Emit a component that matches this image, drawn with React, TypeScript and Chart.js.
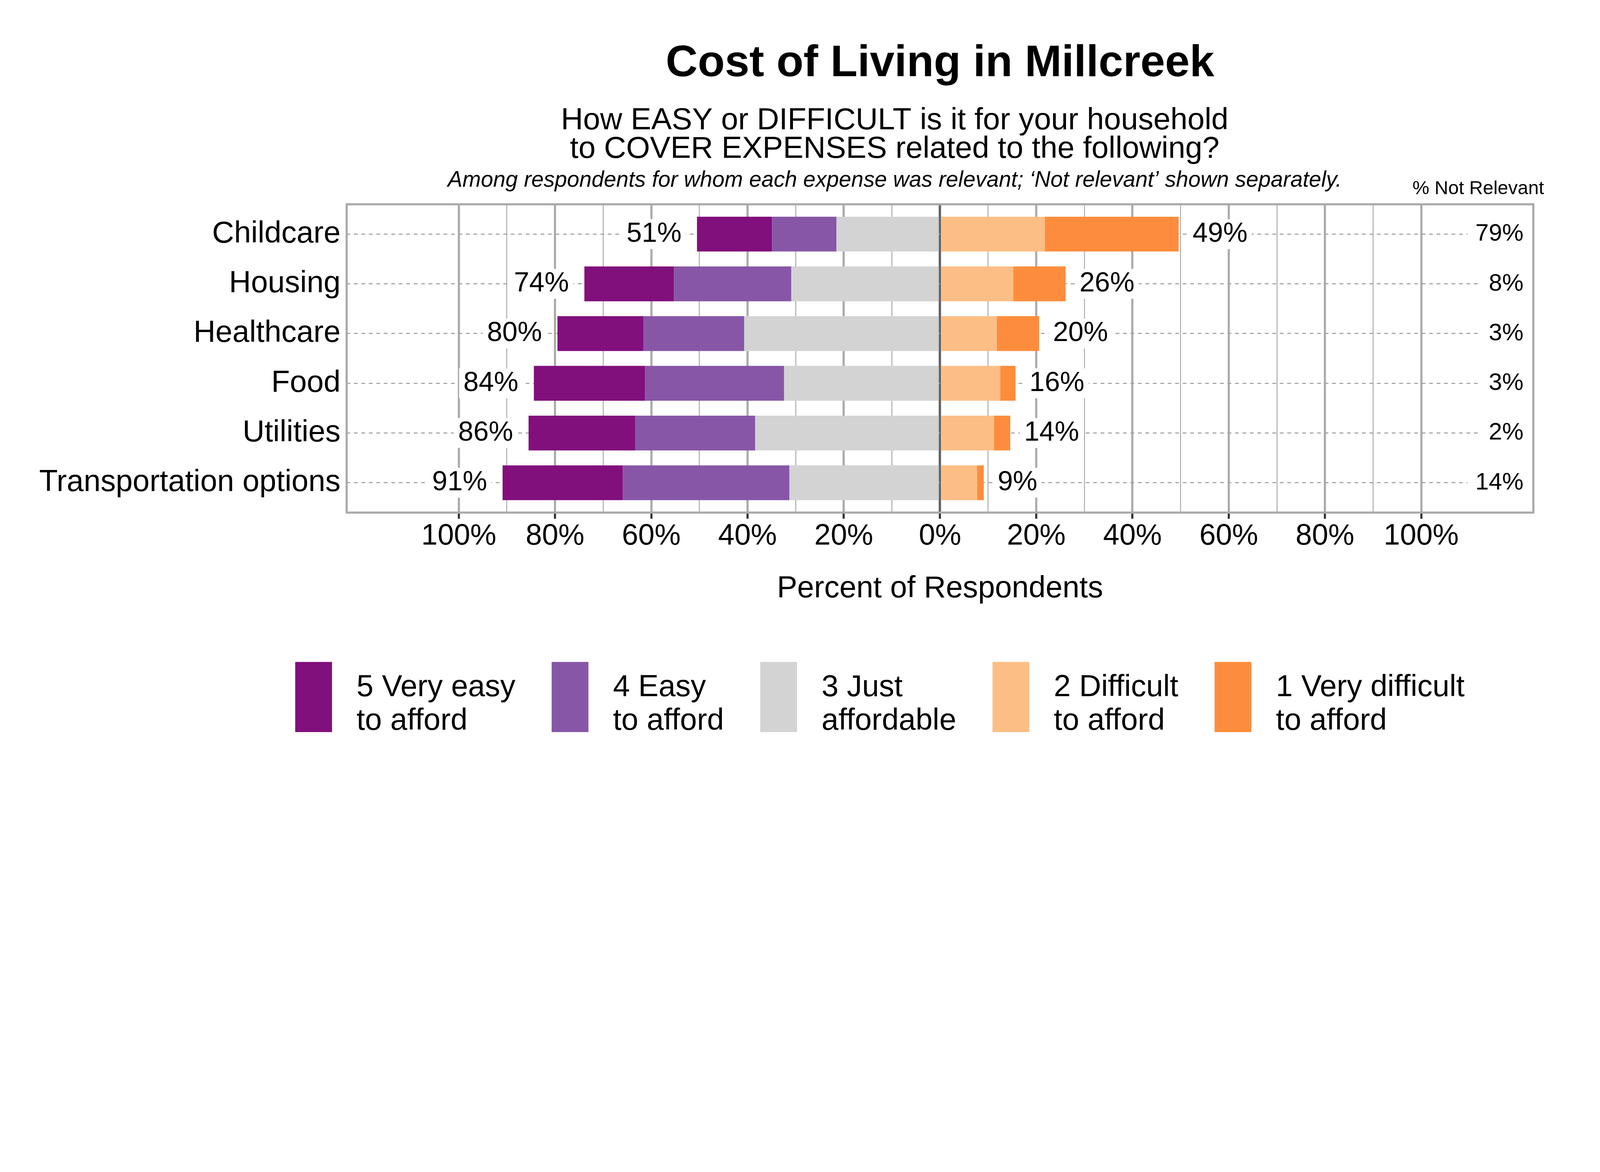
import { useEffect, useRef } from 'react';
import { Chart, registerables } from 'chart.js';
import type { ChartConfiguration, Plugin } from 'chart.js';

Chart.register(...registerables);

const FONT = '"Liberation Sans", Arial, Helvetica, sans-serif';

// the chart is laid out on a 6000 x 3000 logical canvas
const W = 6000;
const H = 3000;

const CATEGORIES = ['Childcare', 'Housing', 'Healthcare', 'Food', 'Utilities', 'Transportation options'];

// percent of respondents (top row first)
const VERY_EASY = [15.6, 18.6, 17.9, 23.1, 22.2, 25.0];
const EASY = [13.4, 24.4, 20.9, 28.9, 24.9, 34.6];
const JUST_AFFORDABLE = [21.5, 30.9, 40.7, 32.4, 38.4, 31.3];
const DIFFICULT = [21.8, 15.2, 11.8, 12.5, 11.2, 7.7];
const VERY_DIFFICULT = [27.8, 10.9, 8.8, 3.2, 3.4, 1.4];

// totals as printed on the chart
const EASY_TOTALS = ['51%', '74%', '80%', '84%', '86%', '91%'];
const DIFFICULT_TOTALS = ['49%', '26%', '20%', '16%', '14%', '9%'];
const NOT_RELEVANT = ['79%', '8%', '3%', '3%', '2%', '14%'];

const LEGEND_TEXT: string[][] = [
  ['5 Very easy', 'to afford'],
  ['4 Easy', 'to afford'],
  ['3 Just', 'affordable'],
  ['2 Difficult', 'to afford'],
  ['1 Very difficult', 'to afford'],
];

const COLORS = ['#810F7C', '#8856A7', '#D3D3D3', '#FDBE85', '#FD8D3C'];

const TITLE = 'Cost of Living in Millcreek';
const SUBTITLE = ['How EASY or DIFFICULT is it for your household', 'to COVER EXPENSES related to the following?'];
const NOTE = 'Among respondents for whom each expense was relevant; \u2018Not relevant\u2019 shown separately.';

const toPoints = (vals: number[], sign: number) => vals.map((v, i) => ({ x: sign * v, y: i }));

// stacking order: easy side grows leftwards from zero (3, 4, 5), difficult side rightwards (2, 1)
const datasets = [
  { label: LEGEND_TEXT[2].join(' '), data: toPoints(JUST_AFFORDABLE, -1), backgroundColor: COLORS[2] },
  { label: LEGEND_TEXT[1].join(' '), data: toPoints(EASY, -1), backgroundColor: COLORS[1] },
  { label: LEGEND_TEXT[0].join(' '), data: toPoints(VERY_EASY, -1), backgroundColor: COLORS[0] },
  { label: LEGEND_TEXT[3].join(' '), data: toPoints(DIFFICULT, 1), backgroundColor: COLORS[3] },
  { label: LEGEND_TEXT[4].join(' '), data: toPoints(VERY_DIFFICULT, 1), backgroundColor: COLORS[4] },
];

function tag(ctx: CanvasRenderingContext2D, text: string, x: number, y: number, align: 'left' | 'right', padX: number, boxH: number) {
  const w = ctx.measureText(text).width;
  const x0 = align === 'right' ? x - w : x;
  ctx.fillStyle = '#ffffff';
  ctx.fillRect(x0 - padX, y - boxH / 2, w + padX * 2, boxH);
  ctx.fillStyle = '#000000';
  ctx.textAlign = align;
  ctx.fillText(text, x, y);
}

const decorations: Plugin<'bar'> = {
  id: 'decorations',
  beforeDraw(chart) {
    const { ctx, width, height } = chart;
    ctx.save();
    ctx.fillStyle = '#ffffff';
    ctx.fillRect(0, 0, width, height);
    ctx.restore();
  },
  beforeDatasetsDraw(chart) {
    const { ctx, chartArea: a } = chart;
    ctx.save();
    ctx.strokeStyle = '#aaaaaa';
    ctx.lineWidth = 8;
    ctx.strokeRect(a.left, a.top, a.right - a.left, a.bottom - a.top);
    ctx.restore();
  },
  afterDatasetsDraw(chart) {
    const { ctx, chartArea: a } = chart;
    const leftMeta = chart.getDatasetMeta(2);
    const rightMeta = chart.getDatasetMeta(4);
    ctx.save();
    ctx.textBaseline = 'middle';
    ctx.font = `103px ${FONT}`;
    CATEGORIES.forEach((_, i) => {
      const lb = leftMeta.data[i] as unknown as { x: number; y: number };
      const rb = rightMeta.data[i] as unknown as { x: number; y: number };
      tag(ctx, EASY_TOTALS[i], lb.x - 58, lb.y, 'right', 16, 112);
      tag(ctx, DIFFICULT_TOTALS[i], rb.x + 52, rb.y, 'left', 16, 112);
    });
    ctx.font = `90px ${FONT}`;
    NOT_RELEVANT.forEach((t, i) => {
      const y = chart.scales.y.getPixelForValue(i);
      tag(ctx, t, a.right - 37, y, 'right', 30, 100);
    });
    ctx.restore();
  },
  afterDraw(chart) {
    const { ctx, chartArea: a } = chart;
    ctx.save();
    ctx.fillStyle = '#000000';
    ctx.textBaseline = 'alphabetic';
    ctx.textAlign = 'center';

    ctx.font = `bold 166px ${FONT}`;
    ctx.fillText(TITLE, (a.left + a.right) / 2, 286);

    ctx.font = `115px ${FONT}`;
    ctx.fillText(SUBTITLE[0], 3355, 485);
    ctx.fillText(SUBTITLE[1], 3355, 592);

    ctx.font = `italic 83px ${FONT}`;
    ctx.fillText(NOTE, 3355, 700);

    ctx.font = `71px ${FONT}`;
    ctx.textAlign = 'right';
    ctx.fillText('% Not Relevant', 5790, 728);

    // legend, in response order 5..1
    ctx.font = `114px ${FONT}`;
    ctx.textAlign = 'left';
    const order = [2, 1, 0, 3, 4];
    let x = 1107;
    const boxTop = 2482;
    order.forEach((dsIndex, k) => {
      const lines = LEGEND_TEXT[k];
      ctx.fillStyle = chart.data.datasets[dsIndex].backgroundColor as string;
      ctx.fillRect(x, boxTop, 138, 263);
      ctx.fillStyle = '#000000';
      const tx = x + 230;
      ctx.fillText(lines[0], tx, 2611);
      ctx.fillText(lines[1], tx, 2737);
      const tw = Math.max(...lines.map((l) => ctx.measureText(l).width));
      x = tx + tw + 136;
    });
    ctx.restore();
  },
};

const isMajor = (v: number) => Math.abs(v) <= 100 && Math.round(v) % 20 === 0;

export default function App() {
  const canvasRef = useRef<HTMLCanvasElement>(null);
  // the browser window may be narrower than 6000px: show the whole chart at the same 2:1 shape
  const cssW = Math.min(window.innerWidth || W, W);
  const cssH = cssW * (H / W);

  useEffect(() => {
    if (!canvasRef.current) return;
    document.body.style.margin = '0';
    Chart.defaults.font.family = FONT;
    Chart.defaults.color = '#000000';

    const config: ChartConfiguration<'bar'> = {
      type: 'bar',
      data: { datasets: datasets as any },
      options: {
        indexAxis: 'y',
        responsive: false,
        devicePixelRatio: cssW / W,
        animation: false,
        layout: { padding: { left: 0, top: 766, right: 250, bottom: 724 } },
        datasets: { bar: { barPercentage: 0.7, categoryPercentage: 1, borderWidth: 0 } },
        plugins: {
          legend: { display: false },
          title: { display: false },
          tooltip: { enabled: false },
        },
        scales: {
          x: {
            type: 'linear',
            stacked: true,
            min: -123.3,
            max: 123.3,
            afterFit: (scale) => { scale.height = 354; },
            ticks: {
              stepSize: 10,
              includeBounds: false,
              autoSkip: false,
              maxRotation: 0,
              padding: 0,
              color: '#000000',
              font: { size: 110 },
              callback: (value) => {
                const v = Math.round(Number(value));
                return isMajor(v) ? `${Math.abs(v)}%` : '';
              },
            },
            grid: {
              drawTicks: true,
              tickLength: 23,
              color: (c) => {
                const v = Math.round(c.tick?.value ?? 0);
                if (v === 0) return '#666666';
                return Math.abs(v) > 100 ? 'rgba(0,0,0,0)' : '#aaaaaa';
              },
              lineWidth: (c) => {
                const v = Math.round(c.tick?.value ?? 0);
                if (v === 0) return 9;
                return isMajor(v) ? 8 : 3.5;
              },
              tickColor: (c) => (isMajor(Math.round(c.tick?.value ?? 0)) ? '#333333' : 'rgba(0,0,0,0)'),
              tickWidth: 8,
            },
            border: { display: false },
            title: {
              display: true,
              text: 'Percent of Respondents',
              color: '#000000',
              font: { size: 114 },
              padding: 0,
            },
          },
          y: {
            type: 'linear',
            stacked: true,
            reverse: true,
            offset: false,
            min: -0.6,
            max: 5.6,
            afterFit: (scale) => { scale.width = 1300; },
            ticks: {
              stepSize: 1,
              includeBounds: false,
              autoSkip: false,
              padding: 23,
              color: '#000000',
              font: { size: 114 },
              callback: (value) => {
                const i = Number(value);
                return Number.isInteger(i) && i >= 0 && i < CATEGORIES.length ? CATEGORIES[i] : '';
              },
            },
            grid: { offset: false, drawTicks: false, color: '#a0a0a0', lineWidth: 4 },
            border: { display: false, dash: [14, 14] },
          },
        },
      },
      plugins: [decorations],
    };

    const chart = new Chart(canvasRef.current, config);
    return () => chart.destroy();
  }, [cssW]);

  return (
    <div style={{ width: cssW, height: cssH, background: '#ffffff' }}>
      <canvas ref={canvasRef} width={W} height={H} style={{ display: 'block', width: cssW, height: cssH }} />
    </div>
  );
}
